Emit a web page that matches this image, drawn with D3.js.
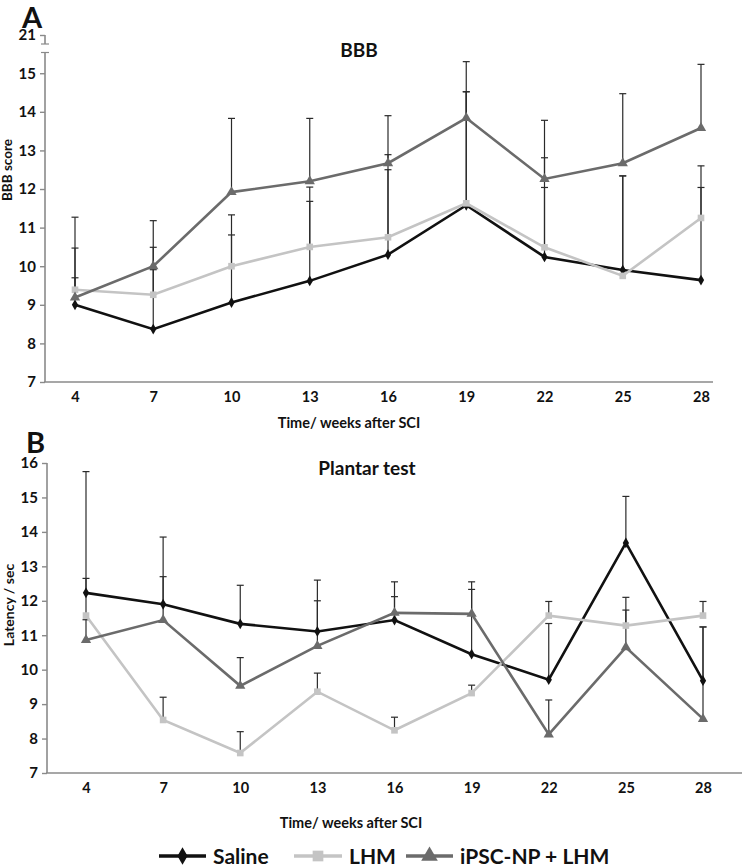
<!DOCTYPE html>
<html>
<head>
<meta charset="utf-8">
<script src="https://cdn.jsdelivr.net/npm/d3@7"></script>
<style>
  html, body { margin: 0; padding: 0; background: #fff; }
  svg { display: block; }
  text { font-family: Lato, "Open Sans", sans-serif; font-weight: bold; fill: #111; }
</style>
</head>
<body>
<svg id="chart" width="744" height="868"></svg>
<script>
// ---------------- DATA ----------------
const weeks = [4, 7, 10, 13, 16, 19, 22, 25, 28];
const seriesNames = ["Saline", "LHM", "iPSC-NP + LHM"];

// Panel A: BBB score (means and upper error)
const bbbSaline   = [9.0, 8.37, 9.06, 9.62, 10.3, 11.58, 10.24, 9.9, 9.64];
const bbbLHM      = [9.39, 9.26, 10.0, 10.5, 10.75, 11.63, 10.49, 9.75, 11.25];
const bbbIPSC     = [9.19, 10.0, 11.92, 12.2, 12.67, 13.84, 12.26, 12.67, 13.58];
const bbbSalineSD = [1.47, 2.12, 1.75, 2.06, 2.2, 2.94, 1.8, 2.44, 2.4];
const bbbLHMSD    = [0.31, 0.65, 1.33, 1.55, 2.14, 2.89, 2.32, 2.59, 1.35];
const bbbIPSCSD   = [2.08, 1.18, 1.91, 1.63, 1.23, 1.46, 1.52, 1.8, 1.65];
const bbbTicks    = [7, 8, 9, 10, 11, 12, 13, 14, 15, 21];

// Panel B: Plantar test latency (means and upper error)
const plSaline    = [12.23, 11.9, 11.33, 11.11, 11.44, 10.45, 9.71, 13.68, 9.68];
const plLHM       = [11.57, 8.54, 7.58, 9.36, 8.24, 9.32, 11.57, 11.28, 11.57];
const plIPSC      = [10.86, 11.44, 9.53, 10.69, 11.65, 11.62, 8.12, 10.65, 8.57];
const plSalineSD  = [3.52, 1.95, 1.12, 1.49, 0.68, 2.1, 1.63, 1.35, 1.56];
const plLHMSD     = [1.08, 0.66, 0.62, 0.54, 0.38, 0.23, 0.41, 0.82, 0.41];
const plIPSCSD    = [0.59, 1.26, 0.82, 1.31, 0.9, 0.71, 1.0, 1.08, 2.67];
const plTicks     = [7, 8, 9, 10, 11, 12, 13, 14, 15, 16];

// ---------------- STYLE ----------------
const colors  = ["#111111", "#c4c4c4", "#6b6b6b"];
const symbols = [d3.symbolDiamond, d3.symbolSquare, d3.symbolTriangle];
const symSize = [34, 44, 46];
const axisCol = "#8a8a8a";

const svg = d3.select("#chart");
svg.append("rect").attr("width", 744).attr("height", 868).attr("fill", "#fff");

function drawPanel(o) {
  const g = svg.append("g");
  // error bars
  o.series.forEach((s, si) => {
    weeks.forEach((w, i) => {
      const x = o.x(w), y0 = o.y(s.mean[i]), y1 = o.y(s.mean[i] + s.sd[i]);
      g.append("line").attr("x1", x).attr("x2", x).attr("y1", y0).attr("y2", y1)
        .attr("stroke", "#2a2a2a").attr("stroke-width", 1.2);
      g.append("line").attr("x1", x - 3.5).attr("x2", x + 3.5).attr("y1", y1).attr("y2", y1)
        .attr("stroke", "#2a2a2a").attr("stroke-width", 1.2);
    });
  });
  // lines + markers
  o.series.forEach((s, si) => {
    const line = d3.line().x((d, i) => o.x(weeks[i])).y(d => o.y(d));
    g.append("path").attr("d", line(s.mean)).attr("fill", "none")
      .attr("stroke", colors[si]).attr("stroke-width", 2.6).attr("stroke-linejoin", "miter");
    g.selectAll(null).data(s.mean).enter().append("path")
      .attr("d", d3.symbol().type(symbols[si]).size(symSize[si]))
      .attr("transform", (d, i) => `translate(${o.x(weeks[i])},${o.y(d)})`)
      .attr("fill", colors[si]);
  });
  // x axis
  g.append("line").attr("x1", o.xAxisRange[0]).attr("x2", o.xAxisRange[1])
    .attr("y1", o.axisY).attr("y2", o.axisY).attr("stroke", axisCol).attr("stroke-width", 1.6);
  const xa = g.append("g").attr("transform", `translate(0,${o.axisY})`)
    .call(d3.axisBottom(o.xLab).tickSize(0).tickPadding(10));
  xa.select(".domain").remove();
  xa.selectAll("text").attr("font-size", 14.5).attr("font-family", "Lato").attr("font-weight", "bold").attr("fill", "#111");
  // y axis
  const ya = g.append("g").attr("transform", `translate(${o.axisX},0)`)
    .call(d3.axisLeft(o.y).tickValues(o.ticks).tickSize(5).tickPadding(4).tickFormat(d3.format("d")));
  ya.select(".domain").remove();
  ya.selectAll(".tick line").attr("stroke", axisCol).attr("stroke-width", 1.4);
  ya.selectAll("text").attr("font-size", 15).attr("font-family", "Lato").attr("font-weight", "bold").attr("fill", "#111");
  o.ySegments.forEach(seg => {
    g.append("line").attr("x1", o.axisX).attr("x2", o.axisX).attr("y1", seg[0]).attr("y2", seg[1])
      .attr("stroke", axisCol).attr("stroke-width", 1.6);
  });
  // titles
  g.append("text").attr("x", o.titleX).attr("y", o.titleY).attr("text-anchor", "middle")
    .attr("font-size", 19).text(o.title);
  g.append("text").attr("x", o.xTitleX).attr("y", o.xTitleY).attr("text-anchor", "middle")
    .attr("font-size", 14.5).text("Time/ weeks after SCI");
  g.append("text").attr("transform", `translate(${o.yTitleX},${o.yTitleY}) rotate(-90)`)
    .attr("text-anchor", "middle").attr("font-size", o.yTitleSize).text(o.yTitle);
  g.append("text").attr("x", o.letterX).attr("y", o.letterY)
    .attr("font-family", "Liberation Sans, Arial, sans-serif").attr("font-size", 29).attr("font-weight", "bold")
    .text(o.letter);
  return g;
}

// ----- Panel A -----
const xA = d3.scalePoint().domain(weeks).range([75, 701]);
const yA = d3.scaleLinear().domain([7, 15.55, 21]).range([382, 52, 35]);
const gA = drawPanel({
  x: xA, xLab: xA, y: yA, ticks: bbbTicks, axisX: 45, axisY: 382,
  xAxisRange: [44, 713],
  ySegments: [[yA(15.55), 382], [yA(21), 44]],
  series: [
    { mean: bbbSaline, sd: bbbSalineSD },
    { mean: bbbLHM, sd: bbbLHMSD },
    { mean: bbbIPSC, sd: bbbIPSCSD }
  ],
  title: "BBB", titleX: 359, titleY: 57,
  xTitleX: 349, xTitleY: 428,
  yTitle: "BBB score", yTitleX: 12, yTitleY: 170, yTitleSize: 13.5,
  letter: "A", letterX: 22, letterY: 27.5
});
// axis break marks
gA.append("line").attr("x1", 41).attr("x2", 49).attr("y1", 44).attr("y2", 44).attr("stroke", axisCol).attr("stroke-width", 1.2);
gA.append("line").attr("x1", 41).attr("x2", 49).attr("y1", 52.5).attr("y2", 52.5).attr("stroke", axisCol).attr("stroke-width", 1.2);

// ----- Panel B -----
const xB = d3.scalePoint().domain(weeks).range([86, 703]);
const yB = d3.scaleLinear().domain([7, 16]).range([773, 463]);
drawPanel({
  x: xB, xLab: xB, y: yB, ticks: plTicks, axisX: 47, axisY: 773,
  xAxisRange: [46, 742],
  ySegments: [[463, 773]],
  series: [
    { mean: plSaline, sd: plSalineSD },
    { mean: plLHM, sd: plLHMSD },
    { mean: plIPSC, sd: plIPSCSD }
  ],
  title: "Plantar test", titleX: 367, titleY: 475,
  xTitleX: 351, xTitleY: 828,
  yTitle: "Latency / sec", yTitleX: 14, yTitleY: 605, yTitleSize: 14,
  letter: "B", letterX: 26, letterY: 453
});

// ----- Legend -----
const legendItems = [
  { x0: 159, x1: 206, tx: 213 },
  { x0: 294, x1: 342, tx: 349 },
  { x0: 406, x1: 453, tx: 460 }
];
const lg = svg.append("g");
legendItems.forEach((it, i) => {
  const ly = 856;
  lg.append("line").attr("x1", it.x0).attr("x2", it.x1).attr("y1", ly).attr("y2", ly)
    .attr("stroke", colors[i]).attr("stroke-width", 3.5);
  lg.append("path").attr("d", d3.symbol().type(symbols[i]).size(symSize[i] * 2.6)())
    .attr("transform", `translate(${(it.x0 + it.x1) / 2},${ly})`).attr("fill", colors[i]);
  lg.append("text").attr("x", it.tx).attr("y", ly + 7.5).attr("font-size", 21).text(seriesNames[i]);
});
</script>
</body>
</html>
